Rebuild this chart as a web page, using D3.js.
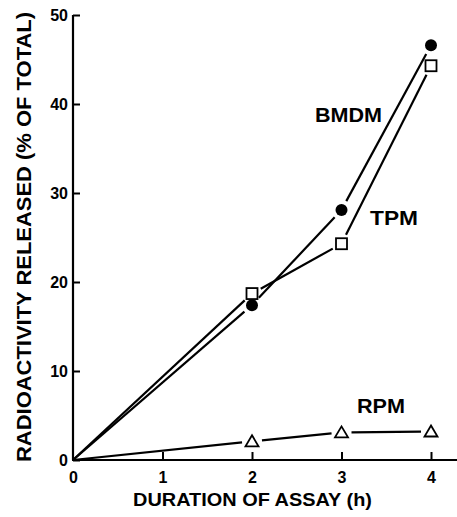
<!DOCTYPE html>
<html>
<head>
<meta charset="utf-8">
<script src="https://cdn.jsdelivr.net/npm/d3@7"></script>
<style>
  body { margin: 0; background: #fff; }
  text { font-family: "Liberation Sans", Arial, sans-serif; font-weight: bold; fill: #000; }
</style>
</head>
<body>
<div id="f1"></div>
<script>
const W = 457, H = 517;

// hours of assay
const hours = [0, 2, 3, 4];
// % of total radioactivity released
const bmdm = [0, 17.4, 28.1, 46.6];
const tpm = [0, 18.7, 24.3, 44.3];
const rpm = [0, 2.1, 3.1, 3.2];
const xTicks = [0, 1, 2, 3, 4];
const yTicks = [0, 10, 20, 30, 40, 50];

const ctx = {
    x: d3.scaleLinear().domain([0, 4]).range([73, 431]),
    y: d3.scaleLinear().domain([0, 50]).range([460, 15]),
    gap: 10,
};

function drawSeries(g, vals, marker){
    let pts = hours.map((h, i) => [ctx.x(h), ctx.y(vals[i])]);
    let line = d3.line();
    // segments stop short of each marker, like the original
    for (let i = 0; i < pts.length - 1; i++){
        let [x0, y0] = pts[i], [x1, y1] = pts[i + 1];
        let len = Math.hypot(x1 - x0, y1 - y0);
        let ux = (x1 - x0) / len, uy = (y1 - y0) / len;
        let g0 = i == 0 ? 0 : ctx.gap, g1 = ctx.gap;
        g.append("path")
         .attr("d", line([[x0 + ux * g0, y0 + uy * g0], [x1 - ux * g1, y1 - uy * g1]]))
         .attr("stroke", "#000")
         .attr("stroke-width", 2.2)
         .attr("fill", "none");
    }
    pts.slice(1).forEach(function(p){
        if (marker == "circle"){
            g.append("circle").attr("cx", p[0]).attr("cy", p[1]).attr("r", 6).attr("fill", "#000");
        } else if (marker == "square"){
            g.append("rect").attr("x", p[0] - 5.5).attr("y", p[1] - 5.5)
             .attr("width", 11).attr("height", 11)
             .attr("fill", "#fff").attr("stroke", "#000").attr("stroke-width", 1.8);
        } else {
            g.append("path")
             .attr("d", `M${p[0]},${p[1] - 6}L${p[0] + 6.5},${p[1] + 5}L${p[0] - 6.5},${p[1] + 5}Z`)
             .attr("fill", "#fff").attr("stroke", "#000").attr("stroke-width", 1.8);
        }
    });
}

function createViz(){
    let svg = d3.select("#f1").append("svg").attr("width", W).attr("height", H);

    // axes
    let yAx = svg.append("g").attr("transform", `translate(${ctx.x(0)},0)`)
        .call(d3.axisLeft(ctx.y).tickValues(yTicks).tickFormat(d3.format("d"))
                .tickSize(-7).tickPadding(5));
    let xAx = svg.append("g").attr("transform", `translate(0,${ctx.y(0)})`)
        .call(d3.axisBottom(ctx.x).tickValues(xTicks).tickFormat(d3.format("d"))
                .tickSize(-8).tickPadding(12));
    [yAx, xAx].forEach(function(a){
        a.select(".domain").remove();
        a.selectAll(".tick line").attr("stroke", "#000").attr("stroke-width", 2);
        a.selectAll(".tick text").style("font-size", "16px").attr("fill", "#000");
    });
    xAx.select(".tick line").remove();
    svg.append("line").attr("x1", ctx.x(0)).attr("x2", ctx.x(0))
       .attr("y1", ctx.y(0)).attr("y2", ctx.y(50))
       .attr("stroke", "#000").attr("stroke-width", 2.2);
    svg.append("line").attr("x1", ctx.x(0) - 1).attr("x2", W)
       .attr("y1", ctx.y(0)).attr("y2", ctx.y(0))
       .attr("stroke", "#000").attr("stroke-width", 2.2);

    let plot = svg.append("g");
    drawSeries(plot, bmdm, "circle");
    drawSeries(plot, tpm, "square");
    drawSeries(plot, rpm, "triangle");

    // series labels
    let lab = [["BMDM", 315, 122, 67], ["TPM", 370, 225, 48], ["RPM", 357, 413, 48]];
    lab.forEach(function(d){
        svg.append("text").attr("x", d[1]).attr("y", d[2]).style("font-size", "20px")
           .attr("textLength", d[3]).attr("lengthAdjust", "spacingAndGlyphs").text(d[0]);
    });

    // axis titles
    svg.append("text").attr("x", 133).attr("y", 506).style("font-size", "19px")
       .attr("textLength", 239).attr("lengthAdjust", "spacingAndGlyphs")
       .text("DURATION OF ASSAY (h)");
    svg.append("text").attr("transform", "translate(31,462) rotate(-90)")
       .style("font-size", "20px")
       .attr("textLength", 450).attr("lengthAdjust", "spacingAndGlyphs")
       .text("RADIOACTIVITY RELEASED (% OF TOTAL)");
}

createViz();
</script>
</body>
</html>
